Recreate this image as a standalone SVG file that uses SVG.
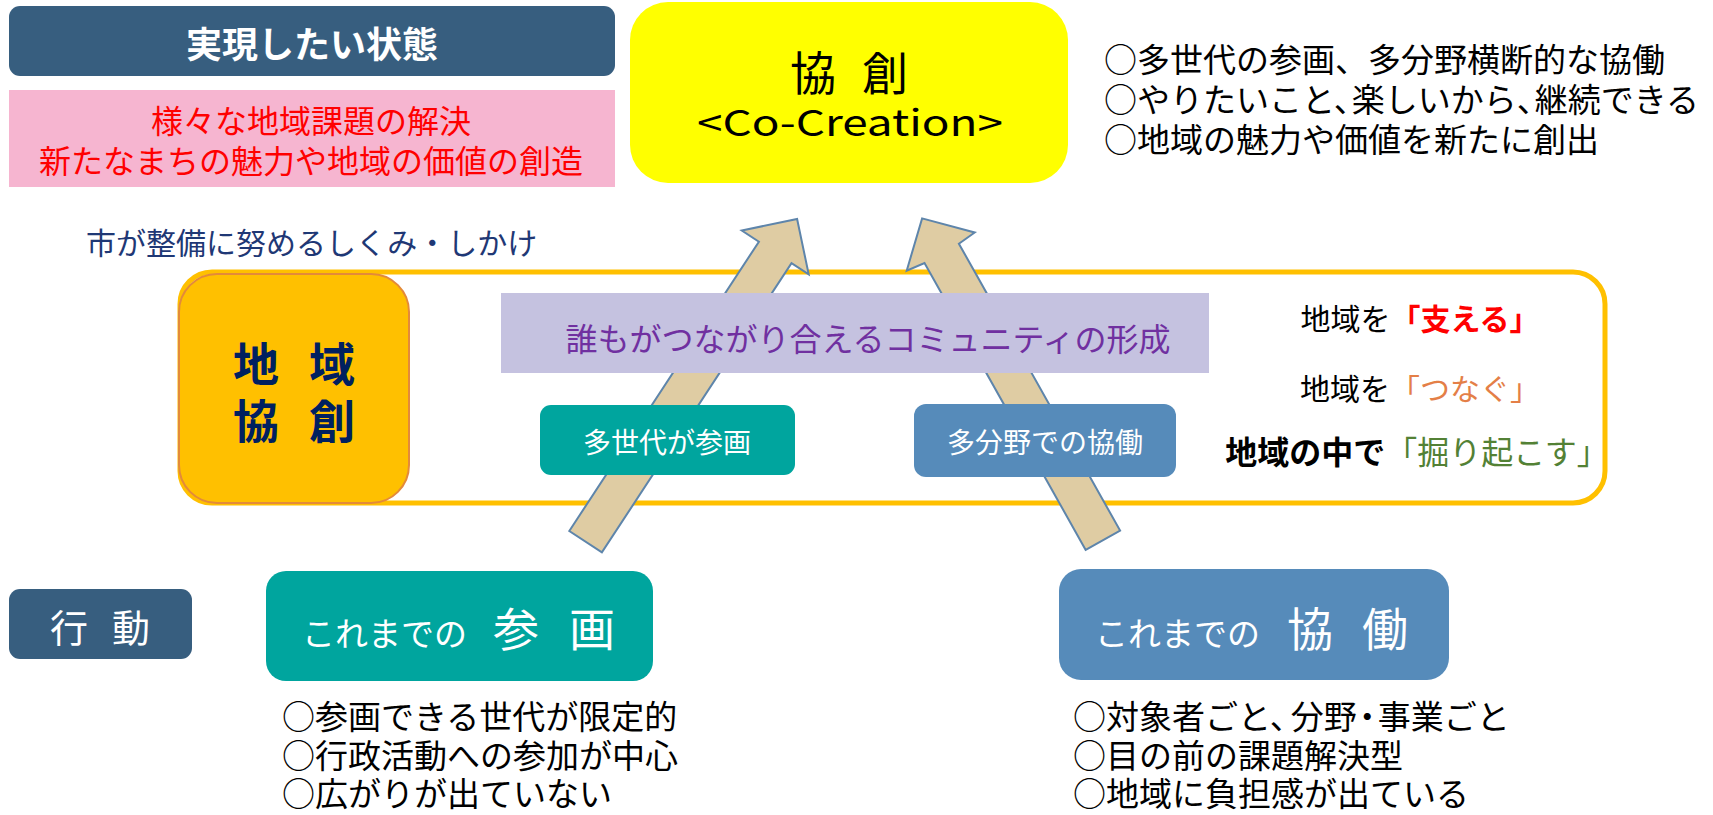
<svg xmlns="http://www.w3.org/2000/svg" width="1713" height="815" viewBox="0 0 1713 815">
<style>
text{font-family:"Noto Sans CJK JP","Noto Sans",sans-serif;}
.w{fill:#FFFFFF;}
.k{fill:#000000;}
.mid{text-anchor:middle;}
.dark{fill:#375E7F;}
.teal{fill:#00A59E;}
.blue{fill:#568BBA;}
.arrow{fill:#DFCCA3;stroke:#5E85AB;stroke-width:2;stroke-linejoin:miter;}
</style>
<rect width="1713" height="815" fill="#FFFFFF"/>

<g id="goal-title">
<rect class="dark" x="9" y="6" width="606" height="70" rx="11"/>
<text class="w mid" x="312" y="58" font-size="36" font-weight="bold">実現したい状態</text>
</g>

<g id="goal-content">
<rect x="9" y="90" width="606" height="97" fill="#F6B5D0"/>
<text class="mid" font-size="32" fill="#FF0000"><tspan x="311" y="133">様々な地域課題の解決</tspan><tspan x="311" y="173">新たなまちの魅力や地域の価値の創造</tspan></text>
</g>

<g id="city-label">
<text x="86" y="254" font-size="30" fill="#1F3875">市が整備に努めるしくみ・しかけ</text>
</g>

<g id="co-creation">
<rect x="630" y="2" width="438" height="181" rx="38" fill="#FFFF00"/>
<text class="k" font-size="46" y="90"><tspan class="mid" x="813">協</tspan><tspan class="mid" x="885">創</tspan></text>
<text class="k mid" x="850" y="136" font-size="36" textLength="306" lengthAdjust="spacingAndGlyphs">&lt;Co-Creation&gt;</text>
</g>

<g id="co-creation-notes">
<text class="k" font-size="33"><tspan x="1104" y="72">○多世代の参画、多分野横断的な協働</tspan><tspan x="1104" y="112">○やりたいこと、</tspan><tspan dx="-15">楽しいから、</tspan><tspan dx="-15">継続できる</tspan><tspan x="1104" y="152">○地域の魅力や価値を新たに創出</tspan></text>
</g>

<g id="frame">
<rect x="180" y="272" width="1425" height="231" rx="32" fill="none" stroke="#FFC000" stroke-width="5"/>
</g>

<g id="connectors">
<polygon class="arrow" points="569.3,531 758.9,241.7 741.8,230.5 797.1,219 808.7,274.3 791.5,263.1 601.9,552.4"/>
<polygon class="arrow" points="1085.7,549.9 924.5,263 906.7,270.7 922.1,218.4 974.7,232.5 958.9,243.7 1120.1,530.6"/>
</g>

<g id="local-co-creation">
<rect x="179" y="274" width="230" height="229" rx="38" fill="#FFC000" stroke="#E38A3A" stroke-width="2"/>
<text font-size="46" font-weight="bold" fill="#002060"><tspan class="mid" x="256" y="381">地</tspan><tspan class="mid" x="332" y="381">域</tspan><tspan class="mid" x="256" y="438">協</tspan><tspan class="mid" x="332" y="438">創</tspan></text>
</g>

<g id="community">
<rect x="501" y="293" width="708" height="80" fill="#C5C2E0"/>
<text class="mid" x="868" y="351" font-size="32" fill="#7030A0">誰もがつながり合えるコミュニティの形成</text>
</g>

<g id="multi-generation">
<rect class="teal" x="540" y="405" width="255" height="70" rx="11"/>
<text class="w mid" x="667" y="453" font-size="28">多世代が参画</text>
</g>

<g id="multi-field">
<rect class="blue" x="914" y="404" width="262" height="73" rx="12"/>
<text class="w mid" x="1045" y="453" font-size="28">多分野での協働</text>
</g>

<g id="roles">
<text class="mid" x="1420" y="330" font-size="30"><tspan class="k">地域を</tspan><tspan fill="#FF0000" font-weight="bold">「支える」</tspan></text>
<text class="mid" x="1420" y="400" font-size="30"><tspan class="k">地域を</tspan><tspan fill="#E47F47">「つなぐ」</tspan></text>
<text class="mid" x="1417" y="464" font-size="32"><tspan class="k" font-weight="bold">地域の中で</tspan><tspan fill="#538135">「掘り起こす」</tspan></text>
</g>

<g id="action">
<rect class="dark" x="9" y="589" width="183" height="70" rx="11"/>
<text class="w" font-size="38" y="642"><tspan class="mid" x="69">行</tspan><tspan class="mid" x="131">動</tspan></text>
</g>

<g id="past-participation">
<rect class="teal" x="266" y="571" width="387" height="110" rx="20"/>
<text class="w" y="646"><tspan x="302" font-size="33">これまでの</tspan><tspan class="mid" x="516" font-size="46">参</tspan><tspan class="mid" x="592" font-size="46">画</tspan></text>
</g>

<g id="past-participation-notes">
<text class="k" font-size="33"><tspan x="282" y="729">○参画できる世代が限定的</tspan><tspan x="282" y="768">○行政活動への参加が中心</tspan><tspan x="282" y="806">○広がりが出ていない</tspan></text>
</g>

<g id="past-collaboration">
<rect class="blue" x="1059" y="569" width="390" height="111" rx="22"/>
<text class="w" y="646"><tspan x="1095" font-size="33">これまでの</tspan><tspan class="mid" x="1310" font-size="46">協</tspan><tspan class="mid" x="1385" font-size="46">働</tspan></text>
</g>

<g id="past-collaboration-notes">
<text class="k" font-size="33"><tspan x="1073" y="729">○対象者ごと、</tspan><tspan dx="-12">分野</tspan><tspan dx="-6">・</tspan><tspan dx="-6">事業ごと</tspan><tspan x="1073" y="768">○目の前の課題解決型</tspan><tspan x="1073" y="806">○地域に負担感が出ている</tspan></text>
</g>
</svg>
